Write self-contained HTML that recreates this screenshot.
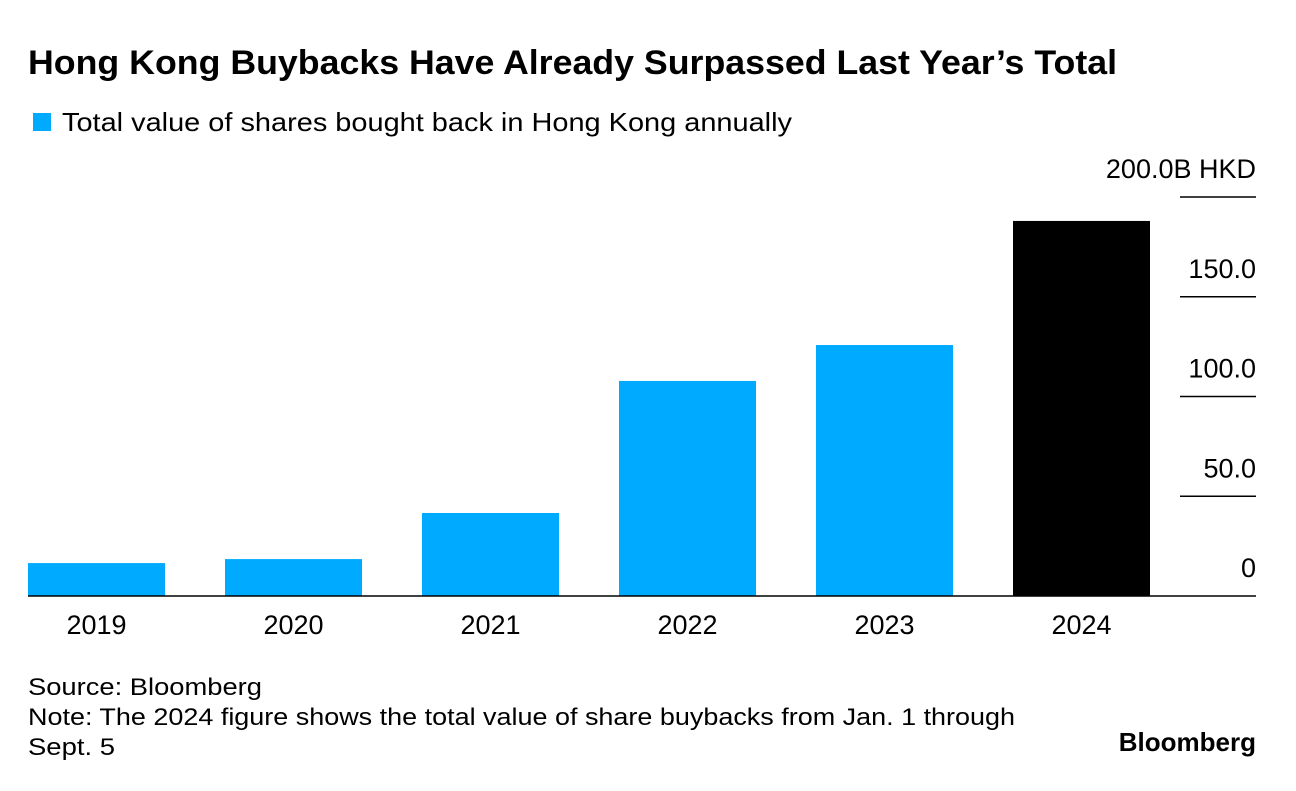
<!DOCTYPE html>
<html><head><meta charset="utf-8"><style>
body{margin:0;background:#fff;font-family:"Liberation Sans",sans-serif;}
svg text{font-family:"Liberation Sans",sans-serif;}
</style></head><body>
<svg width="1296" height="786" viewBox="0 0 1296 786">
<text x="28" y="74" font-size="34" font-weight="bold" fill="#000" textLength="1089" lengthAdjust="spacingAndGlyphs">Hong Kong Buybacks Have Already Surpassed Last Year’s Total</text>
<rect x="33" y="113" width="18" height="18" fill="#00aaff"/>
<text x="62" y="131" font-size="26" fill="#000" textLength="730" lengthAdjust="spacingAndGlyphs">Total value of shares bought back in Hong Kong annually</text>
<g id="grid"></g>
<g id="bars"></g>
<g id="xlabels"></g>
<text x="28" y="695" font-size="24" fill="#000" textLength="234" lengthAdjust="spacingAndGlyphs">Source: Bloomberg</text>
<text x="28" y="725" font-size="24" fill="#000" textLength="987" lengthAdjust="spacingAndGlyphs">Note: The 2024 figure shows the total value of share buybacks from Jan. 1 through</text>
<text x="28" y="755" font-size="24" fill="#000" textLength="87" lengthAdjust="spacingAndGlyphs">Sept. 5</text>
<text x="1256" y="751" font-size="26" font-weight="bold" text-anchor="end" fill="#000">Bloomberg</text>
</svg>
<script>
const categories=["2019","2020","2021","2022","2023","2024"];
const values=[16.5,18.5,41.6,107.8,125.8,188];
const tickValues=[0,50,100,150,200];
const tickLabels=["0","50.0","100.0","150.0","200.0B HKD"];
const NS="http://www.w3.org/2000/svg";
const y0=596,pxPer=(596-197)/200;
function y(v){return y0-v*pxPer;}
function x(i){return 28+i*197;}
const bw=137;
function mk(t,a,p){const e=document.createElementNS(NS,t);for(const k in a)e.setAttribute(k,a[k]);p.appendChild(e);return e;}
const grid=document.getElementById('grid');
tickValues.forEach((v,i)=>{
 if(v!==0){const l=mk('line',{x1:1180,x2:1256,y1:y(v),y2:y(v),stroke:'#000','stroke-width':1.5},grid);
 
 }
 const t=mk('text',{x:1256,y:y(v)-19,'font-size':27,'text-anchor':'end',fill:'#000'},grid);
 t.textContent=tickLabels[i];
 
 
});
const bars=document.getElementById('bars');
values.forEach((v,i)=>{
 const r=mk('rect',{x:x(i),y:y(v),width:bw,height:y0-y(v),fill:i===values.length-1?'#000':'#00aaff'},bars);
 
 
});
const base=mk('line',{x1:28,x2:1256,y1:y0,y2:y0,stroke:'#000','stroke-width':1.5},bars);


const xl=document.getElementById('xlabels');
categories.forEach((c,i)=>{
 const t=mk('text',{x:x(i)+bw/2,y:634,'font-size':27,'text-anchor':'middle',fill:'#000'},xl);
 t.textContent=c;
 
 
});
</script>
</body></html>
